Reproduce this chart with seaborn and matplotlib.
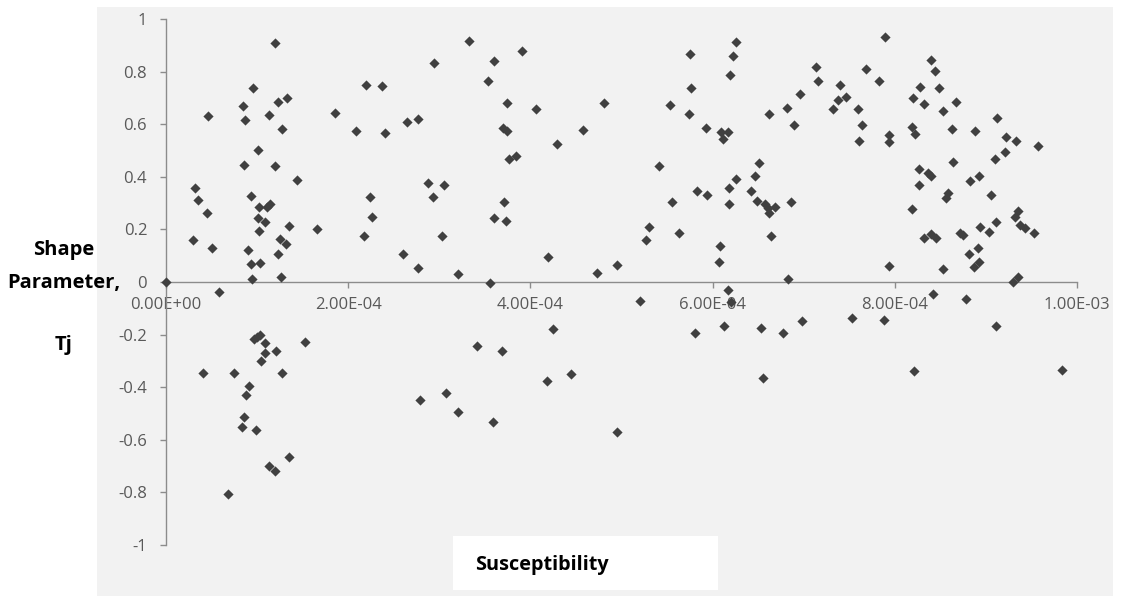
import seaborn as sns
import matplotlib.pyplot as plt
import pandas as pd
from matplotlib.patches import Rectangle


# susceptibility in units of 1e-4, shape parameter Tj
susceptibility = [
    0.000, 0.293, 0.318, 0.355, 0.453, 0.464, 0.508, 0.582, 0.849, 0.870,
    0.859, 0.900, 0.936, 0.936, 0.941, 0.958, 1.010, 1.010, 1.021, 1.032,
    1.021, 1.087, 1.112, 1.142, 1.134, 1.200, 1.200, 1.233, 1.270, 1.233,
    1.248, 1.259, 1.325, 1.321, 1.350, 1.435, 1.658, 1.855, 2.082, 2.173,
    2.195, 2.236, 2.261, 2.371, 2.404, 2.605, 2.642, 2.766, 2.766, 2.879,
    2.928, 2.942, 3.026, 3.052, 3.202, 3.323, 3.531, 3.556, 3.604, 3.905,
    3.740, 4.061, 3.703, 3.740, 3.765, 3.842, 4.289, 4.581, 4.805, 3.713,
    3.604, 3.729, 4.196, 4.728, 4.951, 5.272, 5.302, 5.412, 5.532, 5.558,
    5.631, 5.744, 5.755, 5.766, 5.832, 5.928, 5.942, 6.067, 6.078, 6.095,
    6.172, 6.117, 6.188, 6.224, 6.254, 6.177, 6.177, 6.254, 6.166, 6.202,
    6.128, 6.425, 6.465, 6.513, 6.484, 6.575, 6.611, 6.622, 6.685, 6.622,
    6.638, 6.528, 6.550, 6.773, 6.824, 6.820, 6.890, 6.857, 6.959, 6.981,
    7.135, 7.154, 7.325, 7.373, 7.398, 7.464, 7.527, 7.599, 7.637, 7.610,
    7.684, 7.830, 7.885, 7.896, 7.936, 7.936, 7.936, 5.203,
    8.392, 8.441, 8.282, 8.488, 8.203, 8.321, 8.675, 8.526, 9.120, 8.191,
    8.218, 8.625, 8.875, 9.217, 9.330, 9.577, 9.105, 9.206, 8.637, 8.265,
    8.362, 8.395, 8.265, 8.822, 8.924, 8.586, 8.562, 9.058, 8.191, 9.352,
    9.319, 9.378, 9.424, 9.528, 9.109, 8.933, 9.036, 8.716, 8.752, 8.317,
    8.394, 8.452, 8.818, 8.910, 8.866, 8.919, 8.526, 9.292, 9.356, 8.414,
    8.785, 8.207, 9.108, 9.835,
    0.409, 0.749, 0.677, 0.911, 0.875, 0.859, 0.838, 0.986, 0.966, 1.002,
    1.035, 1.083, 1.083, 1.045, 1.207, 1.268, 1.133, 1.196, 1.345, 1.531,
    2.788, 3.074, 3.209, 3.411, 3.593, 3.692, 4.251, 4.186, 4.446, 4.951,
    5.807,
]
shape_tj = [
    0.000, 0.160, 0.356, 0.312, 0.261, 0.630, 0.128, -0.039, 0.668, 0.617,
    0.445, 0.121, 0.328, 0.067, 0.013, 0.737, 0.501, 0.244, 0.194, 0.072,
    0.286, 0.227, 0.284, 0.297, 0.634, 0.908, 0.441, 0.686, 0.583, 0.106,
    0.163, 0.019, 0.698, 0.146, 0.214, 0.389, 0.202, 0.644, 0.574, 0.175,
    0.750, 0.322, 0.248, 0.745, 0.565, 0.108, 0.610, 0.052, 0.619, 0.378,
    0.322, 0.832, 0.176, 0.369, 0.030, 0.918, 0.763, -0.004, 0.840, 0.880,
    0.682, 0.657, 0.587, 0.575, 0.467, 0.480, 0.524, 0.579, 0.682, 0.304,
    0.244, 0.232, 0.095, 0.034, 0.065, 0.159, 0.210, 0.441, 0.673, 0.304,
    0.185, 0.639, 0.866, 0.737, 0.347, 0.587, 0.330, 0.077, 0.138, 0.570,
    0.570, 0.545, 0.788, 0.860, 0.914, 0.356, 0.295, 0.390, -0.030, -0.076,
    -0.166, 0.347, 0.403, 0.451, 0.309, 0.297, 0.280, 0.261, 0.286, 0.639,
    0.176, -0.175, -0.364, -0.193, 0.010, 0.660, 0.597, 0.304, 0.715, -0.149,
    0.819, 0.764, 0.657, 0.691, 0.750, 0.703, -0.137, 0.657, 0.597, 0.536,
    0.810, 0.763, -0.144, 0.930, 0.559, 0.533, 0.062, -0.072,
    0.844, 0.804, 0.742, 0.737, 0.699, 0.677, 0.686, 0.652, 0.622, 0.588,
    0.562, 0.581, 0.575, 0.552, 0.537, 0.518, 0.467, 0.494, 0.455, 0.429,
    0.414, 0.402, 0.369, 0.385, 0.404, 0.338, 0.321, 0.332, 0.278, 0.271,
    0.248, 0.215, 0.206, 0.185, 0.229, 0.210, 0.189, 0.187, 0.179, 0.167,
    0.182, 0.167, 0.108, 0.129, 0.058, 0.077, 0.049, -0.001, 0.020, -0.046,
    -0.063, -0.337, -0.166, -0.335,
    -0.346, -0.345, -0.805, -0.394, -0.430, -0.514, -0.552, -0.561, -0.218, -0.208,
    -0.200, -0.231, -0.269, -0.300, -0.261, -0.345, -0.700, -0.719, -0.667, -0.227,
    -0.450, -0.423, -0.495, -0.243, -0.531, -0.261, -0.180, -0.376, -0.350, -0.570,
    -0.193,
]

x_ticks = [0, 2e-4, 4e-4, 6e-4, 8e-4, 1e-3]
x_labels = ["0.00E+00", "2.00E-04", "4.00E-04", "6.00E-04", "8.00E-04", "1.00E-03"]
y_ticks = [1, 0.8, 0.6, 0.4, 0.2, 0, -0.2, -0.4, -0.6, -0.8, -1]
y_labels = ["1", "0.8", "0.6", "0.4", "0.2", "0", "-0.2", "-0.4", "-0.6", "-0.8", "-1"]

dados = pd.DataFrame({
    "susceptibility": [v * 1e-4 for v in susceptibility],
    "tj": shape_tj,
})

fig = plt.figure(figsize=(11.22, 5.97), dpi=100)

# grey chart area behind the plot
fig.patches.append(Rectangle((97 / 1122, 1 / 597), 1016 / 1122, 589 / 597,
                             transform=fig.transFigure, facecolor="#f2f2f2",
                             edgecolor="none", zorder=-1))

ax = fig.add_axes([166 / 1122, 1 - 545 / 597, 911 / 1122, 526 / 597])
ax.set_facecolor("none")
ax.set_zorder(1)

sns.scatterplot(x="susceptibility", y="tj", data=dados, marker="D", s=27,
                color="#404040", linewidth=0, ax=ax, zorder=3, clip_on=False)

ax.set_xlim(0, 1e-3)
ax.set_ylim(-1, 1)

ax.spines["top"].set_visible(False)
ax.spines["right"].set_visible(False)
ax.spines["bottom"].set_position(("data", 0))
for s in ["left", "bottom"]:
    ax.spines[s].set_color("#8c8c8c")
    ax.spines[s].set_linewidth(1.0)

font = ["Open Sans", "DejaVu Sans"]
ax.set_xticks(x_ticks)
ax.set_xticklabels(x_labels, family=font, fontsize=12, color="#595959")
ax.set_yticks(y_ticks)
ax.set_yticklabels(y_labels, family=font, fontsize=12, color="#595959")
ax.tick_params(axis="x", direction="out", length=4.5, width=1, color="#8c8c8c", pad=6)
ax.tick_params(axis="y", direction="out", length=4.5, width=1, color="#8c8c8c", pad=9)
ax.set_xlabel("")
ax.set_ylabel("")

# axis titles
fig.text(64 / 1122, 1 - 250 / 597, "Shape", ha="center", va="center",
         fontsize=14.5, fontweight="bold", family=font, zorder=5)
fig.text(64 / 1122, 1 - 283 / 597, "Parameter,", ha="center", va="center",
         fontsize=14.5, fontweight="bold", family=font, zorder=5)
fig.text(64 / 1122, 1 - 345 / 597, "Tj", ha="center", va="center",
         fontsize=14.5, fontweight="bold", family=font, zorder=5)

fig.patches.append(Rectangle((453 / 1122, 1 - 590 / 597), 265 / 1122, 54 / 597,
                             transform=fig.transFigure, facecolor="white",
                             edgecolor="none", zorder=4))
fig.text(475 / 1122, 1 - 565 / 597, "Susceptibility", ha="left", va="center",
         fontsize=14.3, fontweight="bold", family=font, zorder=5)

plt.savefig("out.png", dpi=100)
plt.close()
